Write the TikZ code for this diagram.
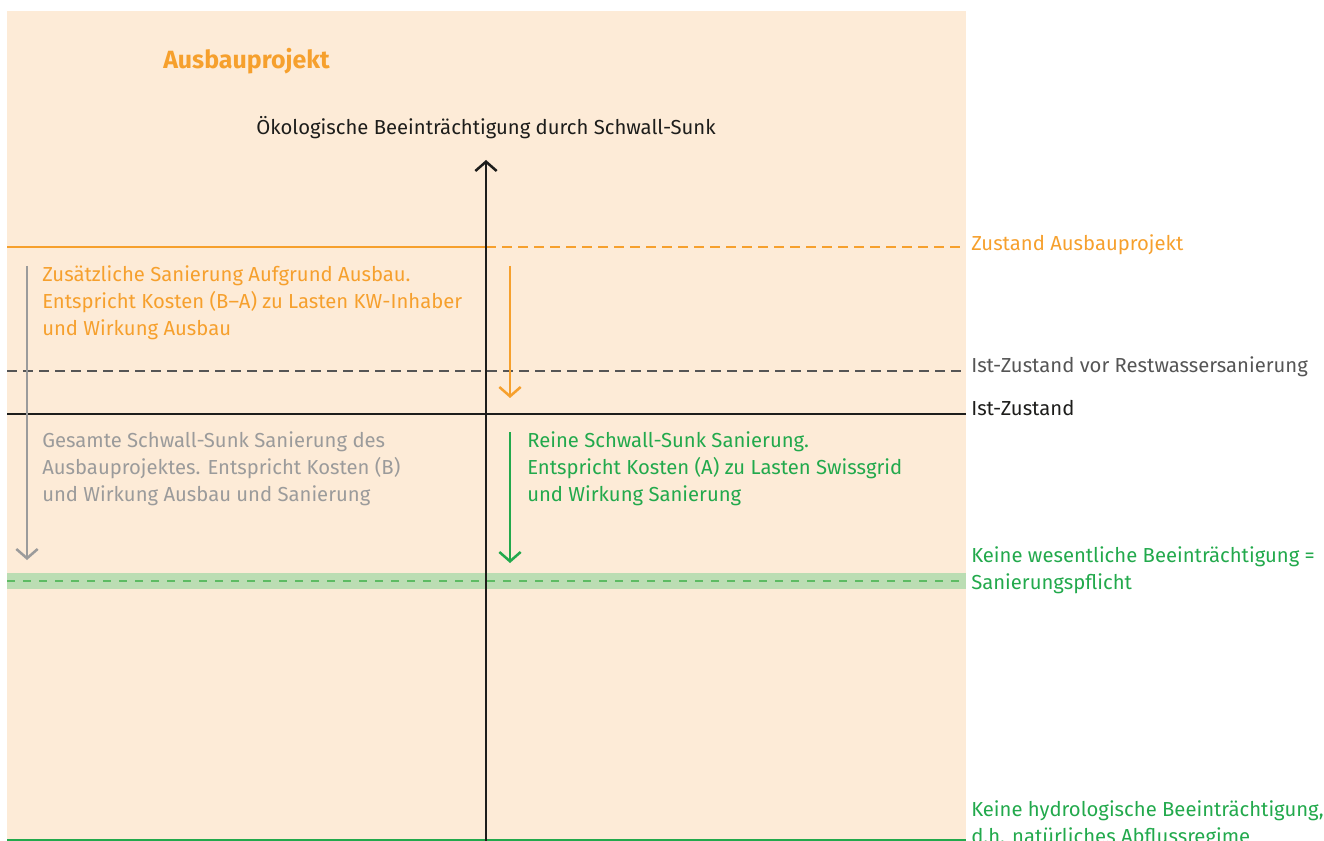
\documentclass[tikz,border=0pt]{standalone}
\usepackage{fontspec}
\setmainfont{Fira Sans}
\usetikzlibrary{arrows.meta}
\definecolor{peach}{HTML}{FDEBD7}
\definecolor{aorange}{HTML}{F6A02D}
\definecolor{agreen}{HTML}{22A94C}
\definecolor{bandgreen}{HTML}{BBDDB3}
\definecolor{dashgreen}{HTML}{5DBB63}
\definecolor{agray}{HTML}{9B9B9B}
\definecolor{darkgray}{HTML}{555555}
\definecolor{ablack}{HTML}{1D1D1B}
\tikzset{
  txt/.style={inner sep=0pt, font=\fontsize{15.2}{20.25}\selectfont, align=left},
  lbl/.style={txt, anchor=base west},
  blk/.style={txt, anchor=north west},
  lvl/.style={line width=1.9pt},
  dsh/.style={lvl, dash pattern=on 7.5pt off 4.5pt},
  tip/.style={-{Straight Barb[length=7pt,width=16pt,line width=1.9pt]}, line width=1.9pt},
}
\begin{document}
\begin{tikzpicture}[x=0.75pt,y=-0.75pt]
\useasboundingbox (0,0) rectangle (1324,841);
\fill[peach] (7,11) rectangle (966,841);
% green band
\fill[bandgreen] (7,573) rectangle (966,589);
% coordinates
\coordinate (oL) at (7,247); \coordinate (oM) at (486,247); \coordinate (oR) at (966,247);
\coordinate (dL) at (7,371); \coordinate (dR) at (966,371);
\coordinate (iL) at (7,414); \coordinate (iR) at (966,414);
\coordinate (gL) at (7,581); \coordinate (gR) at (966,581);
\coordinate (bL) at (7,840); \coordinate (bR) at (966,840);
\coordinate (axB) at (486,841); \coordinate (axT) at (486,160);
\coordinate (oaT) at (510,266); \coordinate (oaB) at (510,398);
\coordinate (gaT) at (510,432); \coordinate (gaB) at (510,563);
\coordinate (yaT) at (27,266); \coordinate (yaB) at (27,560);
% level lines
\draw[lvl, aorange] (oL) -- (oM);
\draw[dsh, aorange] (oM) -- (oR);
\draw[dsh, darkgray] (dL) -- (dR);
\draw[lvl, ablack] (iL) -- (iR);
\draw[dsh, dashgreen, dash pattern=on 6pt off 6pt] (gL) -- (gR);
\draw[line width=1.3pt, agreen] (bL) -- (bR);
% axis
\draw[tip, ablack, line width=2.2pt] (axB) -- (axT);
% arrows
\draw[tip, aorange] (oaT) -- (oaB);
\draw[tip, agreen] (gaT) -- (gaB);
\draw[tip, agray] (yaT) -- (yaB);
% texts
\node[anchor=base west, inner sep=0pt, text=aorange, font=\fontsize{18.7}{20}\selectfont\bfseries] (title) at (163,69) {Ausbauprojekt};
\node[anchor=base, inner sep=0pt, text=ablack, font=\fontsize{15.2}{20.25}\selectfont] (axlbl) at (486,135) {Ökologische Beeinträchtigung durch Schwall-Sunk};
\node[blk, text=aorange] (t1) at (42,265) {Zusätzliche Sanierung Aufgrund Ausbau.\\Entspricht Kosten (B–A) zu Lasten KW-Inhaber\\und Wirkung Ausbau};
\node[blk, text=agray] (t2) at (42,431) {Gesamte Schwall-Sunk Sanierung des\\Ausbauprojektes. Entspricht Kosten (B)\\und Wirkung Ausbau und Sanierung};
\node[blk, text=agreen] (t3) at (527,431) {Reine Schwall-Sunk Sanierung.\\Entspricht Kosten (A) zu Lasten Swissgrid\\und Wirkung Sanierung};
\node[lbl, text=aorange] (r1) at (971,251) {Zustand Ausbauprojekt};
\node[lbl, text=darkgray] (r2) at (971,373) {Ist-Zustand vor Restwassersanierung};
\node[lbl, text=ablack] (r3) at (971,416) {Ist-Zustand};
\node[blk, text=agreen] (r4) at (971,546) {Keine wesentliche Beeinträchtigung =\\Sanierungspflicht};
\node[blk, text=agreen] (r5) at (971,800) {Keine hydrologische Beeinträchtigung,\\d.h. natürliches Abflussregime};
\end{tikzpicture}
\end{document}
